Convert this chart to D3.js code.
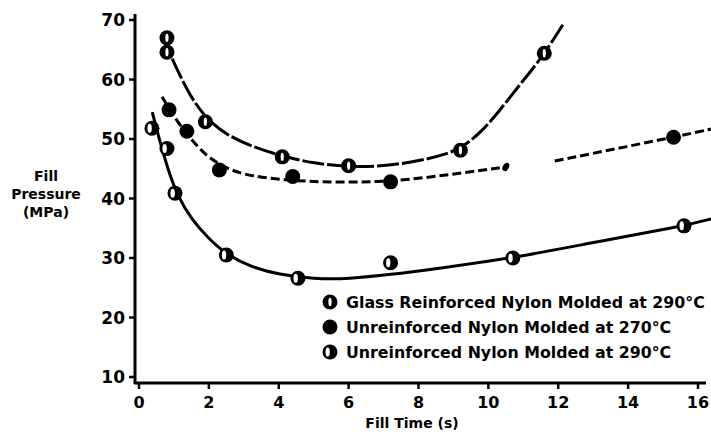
<!DOCTYPE html>
<html lang="en">
  <head>
    <meta charset="utf-8">
    <title>Fill Pressure vs Fill Time</title>
    <script type="text/javascript" src="https://cdn.jsdelivr.net/npm/d3@7/dist/d3.min.js"></script>
    <style>
      body { margin: 0; background: #fff; }
      text { font-family: "DejaVu Sans", sans-serif; font-weight: bold; fill: #000; }
    </style>
  </head>
  <body>
    <script type="text/javascript">
    // axis ticks
    var xTicks = [0, 2, 4, 6, 8, 10, 12, 14, 16];
    var yTicks = [10, 20, 30, 40, 50, 60, 70];

    // series names (legend order)
    var seriesNames = [
      "Glass Reinforced Nylon Molded at 290\u00B0C",
      "Unreinforced Nylon Molded at 270\u00B0C",
      "Unreinforced Nylon Molded at 290\u00B0C"
    ];

    // measured points [fill time (s), fill pressure (MPa)]
    var glassPoints = [[0.8, 67.0], [0.8, 64.6], [1.9, 52.9], [4.1, 47.0], [6.0, 45.5], [9.2, 48.1], [11.6, 64.4]];
    var nylon270Points = [[0.86, 54.9], [1.37, 51.3], [2.3, 44.8], [4.4, 43.7], [7.2, 42.8], [15.3, 50.3]];
    var nylon290Points = [[0.37, 51.8], [0.8, 48.4], [1.03, 40.9], [2.5, 30.5], [4.55, 26.6], [7.2, 29.2], [10.7, 30.0], [15.6, 35.4]];

    // fitted curves
    var glassCurve = [[0.95, 63.5], [1.4, 57.8], [1.9, 53.5], [2.5, 50.7], [3.2, 48.8], [4.1, 47.1], [5.0, 45.9],
                      [6.0, 45.3], [7.0, 45.4], [8.0, 46.3], [8.8, 47.4], [9.3, 48.8], [9.8, 51.2], [10.3, 54.6],
                      [10.8, 58.4], [11.3, 62.0], [11.7, 65.2], [12.13, 69.2]];
    var nylon270CurveA = [[0.66, 57.1], [0.9, 54.6], [1.37, 50.8], [1.9, 47.2], [2.5, 45.0], [3.2, 43.7],
                          [4.4, 43.0], [5.5, 42.7], [7.2, 42.8], [8.9, 44.0], [10.5, 45.3]];
    var nylon270CurveB = [[11.9, 46.3], [15.3, 50.3], [16.4, 51.7]];
    var nylon290Curve = [[0.38, 54.5], [0.6, 49.5], [0.85, 44.5], [1.1, 40.5], [1.5, 36.5], [2.0, 33.2],
                         [2.5, 30.6], [3.2, 28.5], [4.0, 27.2], [5.0, 26.5], [6.0, 26.5], [7.2, 27.2],
                         [8.5, 28.2], [10.7, 30.0], [13.0, 32.6], [15.6, 35.4], [16.4, 36.6]];

    var w = 711;
    var h = 437;

    var svg = d3.select("body")
                .append("svg")
                .attr("width", w)
                .attr("height", h);

    // scales
    var xScale = d3.scaleLinear().domain([0, 16]).range([139, 698]);
    var yScale = d3.scaleLinear().domain([10, 70]).range([377, 20]);
    var axisX = 135, axisY = 383;

    // axes lines
    svg.append("line")
       .attr("x1", axisX).attr("x2", axisX)
       .attr("y1", 14).attr("y2", axisY + 1)
       .attr("stroke", "#000").attr("stroke-width", 3);
    svg.append("line")
       .attr("x1", axisX - 1).attr("x2", 706)
       .attr("y1", axisY).attr("y2", axisY)
       .attr("stroke", "#000").attr("stroke-width", 3);

    // y ticks + labels
    yTicks.forEach(function(t) {
      svg.append("line")
         .attr("x1", axisX - 6).attr("x2", axisX)
         .attr("y1", yScale(t)).attr("y2", yScale(t))
         .attr("stroke", "#000").attr("stroke-width", 2.5);
      svg.append("text")
         .attr("x", axisX - 10)
         .attr("y", yScale(t) + 6)
         .attr("text-anchor", "end")
         .attr("font-size", 17)
         .text(t);
    });

    // x ticks + labels
    xTicks.forEach(function(t) {
      svg.append("line")
         .attr("x1", xScale(t)).attr("x2", xScale(t))
         .attr("y1", axisY).attr("y2", axisY + 6)
         .attr("stroke", "#000").attr("stroke-width", 2.5);
      svg.append("text")
         .attr("x", xScale(t))
         .attr("y", axisY + 25)
         .attr("text-anchor", "middle")
         .attr("font-size", 16)
         .text(t);
    });

    // axis titles
    svg.append("text")
       .attr("x", 412).attr("y", 428)
       .attr("text-anchor", "middle")
       .attr("font-size", 14)
       .text("Fill Time (s)");
    ["Fill", "Pressure", "(MPa)"].forEach(function(s, i) {
      svg.append("text")
         .attr("x", 46).attr("y", 181 + i * 18)
         .attr("text-anchor", "middle")
         .attr("font-size", 14)
         .text(s);
    });

    // curves
    var line = d3.line()
                 .x(function(d) { return xScale(d[0]); })
                 .y(function(d) { return yScale(d[1]); })
                 .curve(d3.curveBasis);

    var drawCurve = function(data, dash) {
      svg.append("path")
         .datum(data)
         .attr("d", line)
         .attr("fill", "none")
         .attr("stroke", "#000")
         .attr("stroke-width", 3)
         .attr("stroke-dasharray", dash);
    };
    drawCurve(glassCurve, "22,3");
    drawCurve(nylon270CurveA, "9,4");
    drawCurve(nylon270CurveB, "9,4");
    drawCurve(nylon290Curve, null);

    // little blob where the dashed 270 curve stops
    var last = nylon270CurveA[nylon270CurveA.length - 1];
    svg.append("ellipse")
       .attr("cx", xScale(last[0]))
       .attr("cy", yScale(last[1]))
       .attr("rx", 3).attr("ry", 4.5)
       .attr("transform", "rotate(30," + xScale(last[0]) + "," + yScale(last[1]) + ")")
       .attr("fill", "#000");

    // marker drawing
    var marker = function(g, kind) {
      g.append("circle").attr("r", 7.5).attr("fill", "#000");
      if (kind === 0) {
        g.append("ellipse").attr("rx", 1.6).attr("ry", 4.2).attr("fill", "#fff");
      } else if (kind === 2) {
        g.append("ellipse").attr("cx", -2.3).attr("rx", 2.2).attr("ry", 4.5).attr("fill", "#fff");
      }
    };

    [glassPoints, nylon270Points, nylon290Points].forEach(function(pts, k) {
      svg.selectAll(".pt" + k)
         .data(pts)
         .enter()
         .append("g")
         .attr("class", "pt" + k)
         .attr("transform", function(d) {
           return "translate(" + xScale(d[0]) + "," + yScale(d[1]) + ")";
         })
         .each(function() { marker(d3.select(this), k); });
    });

    // legend
    seriesNames.forEach(function(name, i) {
      var ly = 302 + i * 25;
      var g = svg.append("g").attr("transform", "translate(330," + ly + ")");
      marker(g, i);
      svg.append("text")
         .attr("x", 346)
         .attr("y", ly + 5.5)
         .attr("font-size", 15.8)
         .text(name);
    });
    </script>
  </body>
</html>
